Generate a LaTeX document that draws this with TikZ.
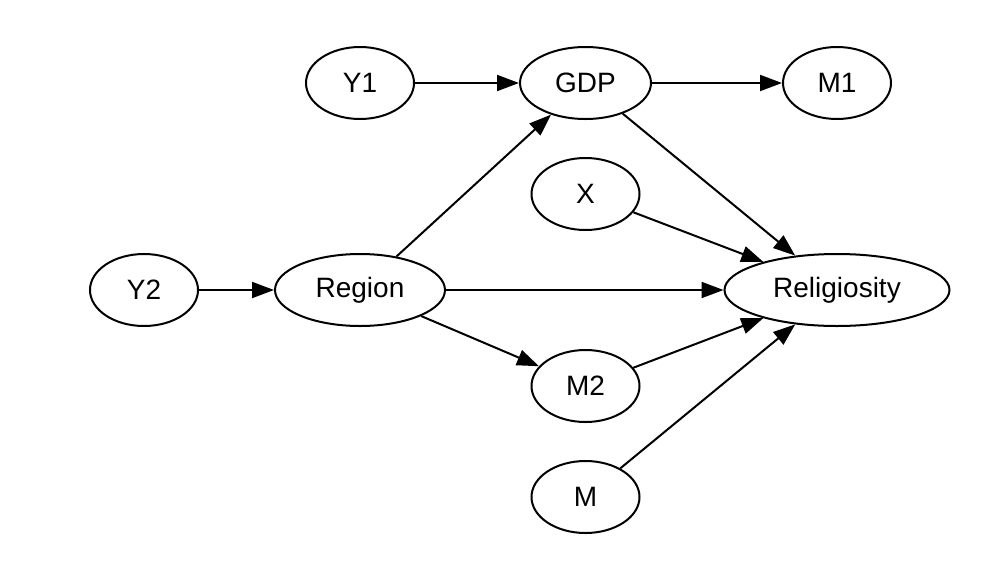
\documentclass[tikz,border=0pt]{standalone}
\usepackage{fontspec}
\setmainfont{Liberation Sans}
\usepackage{tikz}
\usetikzlibrary{shapes, arrows.meta, positioning}

\begin{document}
\begin{tikzpicture}[
  var/.style={ellipse, draw, line width=1pt, inner sep=0pt,
              minimum width=54pt, minimum height=36pt,
              font=\fontsize{14}{17}\selectfont},
  arrow/.style={-{Triangle[length=11pt, width=8pt]}, line width=1pt}
]
\useasboundingbox (-180pt,-145pt) rectangle (320pt,145pt);

%% --- Middle row ---
\node[var, minimum width=85pt] (region) {Region};
\node[var, left=37.5pt of region] (y2) {Y2};
\node[var, minimum width=112.5pt, right=138.75pt of region] (relig) {Religiosity};

%% --- Top row ---
\node[var, above=66.5pt of region] (y1) {Y1};
\node[var, minimum width=65.5pt, right=52pt of y1] (gdp) {GDP};
\node[var, right=65pt of gdp] (m1) {M1};

%% --- Column under GDP ---
\node[var, below=18.5pt of gdp] (x) {X};
\node[var, below=59pt of x] (m2) {M2};
\node[var, below=18.5pt of m2] (m) {M};

%% --- Edges ---
\draw[arrow] (y1)     -- (gdp);
\draw[arrow] (gdp)    -- (m1);
\draw[arrow] (y2)     -- (region);
\draw[arrow] (region) -- (gdp);
\draw[arrow] (region) -- (relig);
\draw[arrow] (region) -- (m2);

%% --- Into Religiosity ---
\draw[arrow] (gdp) -- (relig);
\draw[arrow] (x)   -- (relig);
\draw[arrow] (m2)  -- (relig);
\draw[arrow] (m)   -- (relig);

\end{tikzpicture}
\end{document}
